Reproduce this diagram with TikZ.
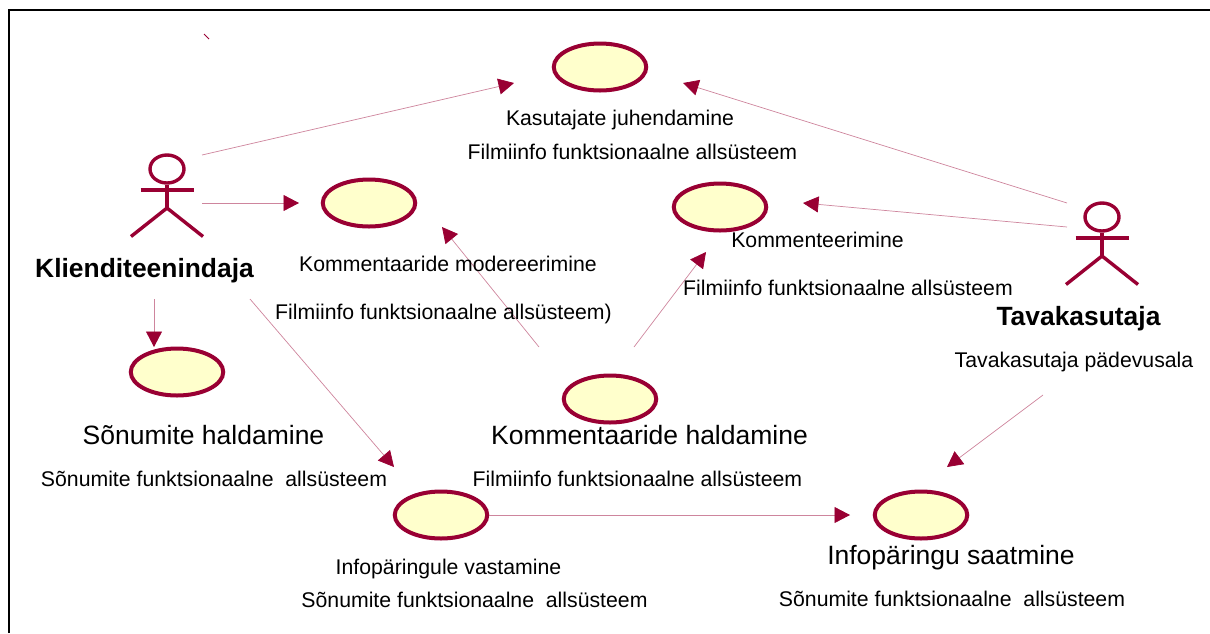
\documentclass[tikz,border=0pt]{standalone}
\usepackage{fontspec}
\setmainfont{Liberation Sans}
\usetikzlibrary{shapes.geometric,arrows.meta}
\definecolor{umlred}{HTML}{990033}
\definecolor{umlfill}{HTML}{FFFFCC}
\tikzset{
usecase/.style={ellipse,draw=umlred,fill=umlfill,line width=4pt,minimum width=92.5pt,minimum height=47pt,inner sep=0pt},
actorhead/.style={ellipse,draw=umlred,line width=3.4pt,minimum width=34pt,minimum height=28pt,inner sep=0pt},
actorline/.style={draw=umlred,line width=3.4pt},
assoc/.style={draw=umlred!48,line width=0.7pt,-{Triangle[length=15.5pt,width=16pt,color=umlred]}},
smalltext/.style={anchor=base,inner sep=0pt,font=\fontsize{21.25}{25}\selectfont},
bigtext/.style={anchor=base,inner sep=0pt,font=\fontsize{26.5}{31}\selectfont},
actorname/.style={anchor=base,inner sep=0pt,font=\fontsize{26.4}{31}\selectfont\bfseries}
}
\begin{document}
\begin{tikzpicture}[x=1pt,y=-1pt]
\useasboundingbox (0,0) rectangle (1210,633);
\draw[line width=2.2pt] (9,633) -- (9,10) -- (1210,10);
\coordinate (markA) at (204,34);
\coordinate (markB) at (209,39);
\draw[draw=umlred,line width=0.9pt] (markA) -- (markB);
\foreach \name/\x/\y in {juhendamine/600/67,modereerimine/369/203,kommenteerimine/720/207,haldamine/610/399,sonumid/177/372,vastamine/441/515,saatmine/921/515}{
\node[usecase] (\name) at (\x,\y) {};}
\node[actorhead] (klient) at (167,169) {};
\node[actorhead] (tava) at (1102,217) {};
\foreach \actor in {klient,tava}{
\draw[actorline] (\actor.south) -- ([shift={(0,38)}]\actor.center);
\draw[actorline] ([shift={(-26.5,21)}]\actor.center) -- ([shift={(26.5,21)}]\actor.center);
\draw[actorline] ([shift={(-36,67.5)}]\actor.center) -- ([shift={(0,39)}]\actor.center) -- ([shift={(36,67.5)}]\actor.center);}
\draw[assoc] ([shift={(35,-14)}]klient.center) -- ([shift={(-86,16)}]juhendamine.center);
\draw[assoc] ([shift={(-35,-14)}]tava.center) -- ([shift={(83,16)}]juhendamine.center);
\draw[assoc] ([shift={(35,34)}]klient.center) -- ([shift={(-70,0)}]modereerimine.center);
\draw[assoc] ([shift={(-35,10)}]tava.center) -- ([shift={(83,-4)}]kommenteerimine.center);
\draw[assoc] ([shift={(-71,-52)}]haldamine.center) -- ([shift={(73,24)}]modereerimine.center);
\draw[assoc] ([shift={(24,-52)}]haldamine.center) -- ([shift={(-14,45)}]kommenteerimine.center);
\draw[assoc] ([shift={(-13,130)}]klient.center) -- ([shift={(-23,-25)}]sonumid.center);
\draw[assoc] ([shift={(83,130)}]klient.center) -- ([shift={(-47,-48)}]vastamine.center);
\draw[assoc] ([shift={(48,0)}]vastamine.center) -- ([shift={(-71,0)}]saatmine.center);
\draw[assoc] ([shift={(-59,178)}]tava.center) -- ([shift={(26,-48)}]saatmine.center);
\node[smalltext] (juhendamineA) at (620,125) {Kasutajate juhendamine};
\node[smalltext] (juhendamineB) at (632.5,159) {Filmiinfo funktsionaalne allsüsteem};
\node[actorname] (klientA) at (144.5,277) {Klienditeenindaja};
\node[smalltext] (modereerimineA) at (448,271) {Kommentaaride modereerimine};
\node[smalltext] (modereerimineB) at (443.5,319) {Filmiinfo funktsionaalne allsüsteem)};
\node[smalltext] (kommenteerimineA) at (817.5,247) {Kommenteerimine};
\node[smalltext] (kommenteerimineB) at (848,295) {Filmiinfo funktsionaalne allsüsteem};
\node[actorname] (tavaA) at (1078.5,325) {Tavakasutaja};
\node[smalltext] (tavaB) at (1074,367) {Tavakasutaja pädevusala};
\node[bigtext] (sonumidA) at (203.5,444) {Sõnumite haldamine};
\node[smalltext] (sonumidB) at (214,486) {Sõnumite funktsionaalne\ \ allsüsteem};
\node[bigtext] (haldamineA) at (649.5,444) {Kommentaaride haldamine};
\node[smalltext] (haldamineB) at (637.5,486) {Filmiinfo funktsionaalne allsüsteem};
\node[smalltext] (vastamineA) at (448.5,574) {Infopäringule vastamine};
\node[smalltext] (vastamineB) at (474.5,607) {Sõnumite funktsionaalne\ \ allsüsteem};
\node[bigtext] (saatmineA) at (951,564) {Infopäringu saatmine};
\node[smalltext] (saatmineB) at (952,606) {Sõnumite funktsionaalne\ \ allsüsteem};
\end{tikzpicture}
\end{document}
